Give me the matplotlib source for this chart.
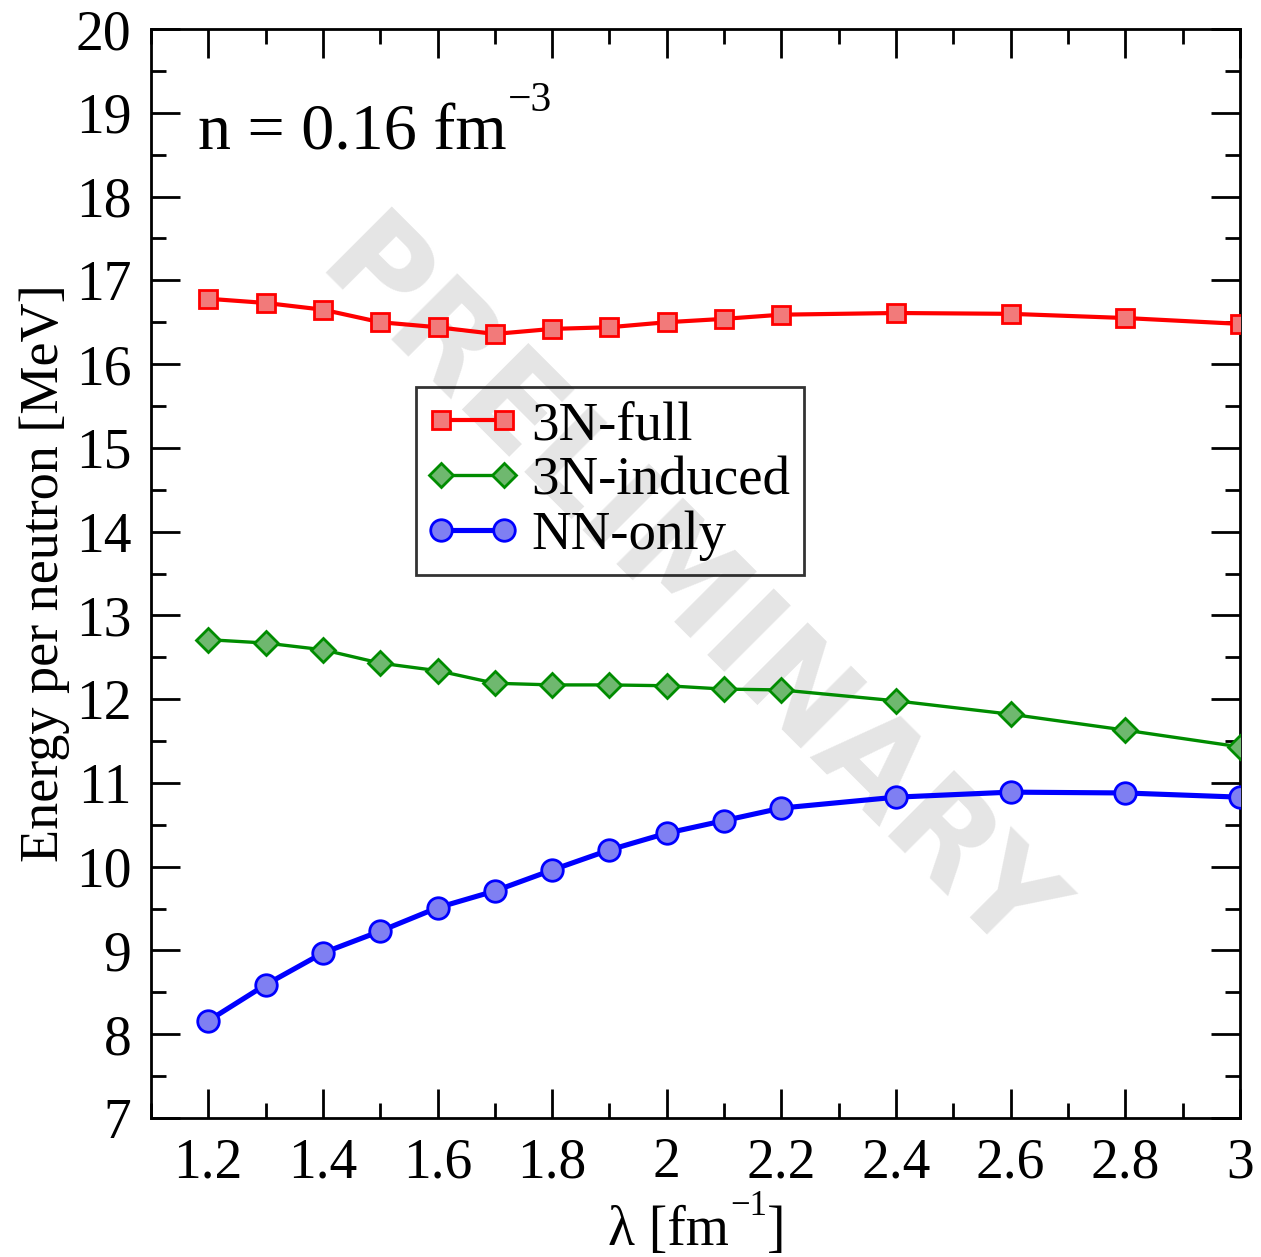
import matplotlib
matplotlib.use("Agg")
import matplotlib.pyplot as plt
from matplotlib.ticker import MultipleLocator, FuncFormatter
from matplotlib.legend_handler import HandlerLine2D

plt.rcParams['font.family'] = ['Liberation Serif', 'DejaVu Serif']

# lambda values [fm^-1]
lam = [1.2, 1.3, 1.4, 1.5, 1.6, 1.7, 1.8, 1.9, 2.0, 2.1, 2.2, 2.4, 2.6, 2.8, 3.0]

# energy per neutron [MeV]
e_3n_full = [16.78, 16.73, 16.65, 16.50, 16.44, 16.36, 16.42, 16.44,
             16.50, 16.54, 16.59, 16.61, 16.60, 16.55, 16.48]
e_3n_induced = [12.71, 12.67, 12.59, 12.43, 12.34, 12.19, 12.17, 12.17,
                12.16, 12.12, 12.11, 11.98, 11.82, 11.63, 11.43]
e_nn_only = [8.16, 8.59, 8.97, 9.23, 9.51, 9.71, 9.96, 10.20,
             10.40, 10.55, 10.70, 10.83, 10.89, 10.88, 10.83]

fig = plt.figure(figsize=(12.61, 12.57), dpi=100)
ax = fig.add_axes([0.1197, 0.1106, 0.8636, 0.8663])

# watermark
ax.text(0.491, 0.481, "PRELIMINARY", transform=ax.transAxes, rotation=-45.0,
        ha="center", va="center", fontsize=93, fontweight="bold",
        family="DejaVu Sans", color="#e5e5e5", zorder=0)

ax.plot(lam, e_3n_full, color="red", lw=3, marker="s", ms=13.5,
        mfc="#f27a7a", mec="red", mew=2, label="3N-full", zorder=3)
ax.plot(lam, e_3n_induced, color="#008c00", lw=2.4, marker="D", ms=12,
        mfc="#6fb86f", mec="#008c00", mew=2, label="3N-induced", zorder=3)
ax.plot(lam, e_nn_only, color="blue", lw=3.7, marker="o", ms=15.5,
        mfc="#7f7ff2", mec="blue", mew=2, label="NN-only", zorder=3)

ax.set_xlim(1.1, 3.0)
ax.set_ylim(7, 20)
ax.xaxis.set_major_locator(MultipleLocator(0.2))
ax.xaxis.set_minor_locator(MultipleLocator(0.1))
ax.yaxis.set_major_locator(MultipleLocator(1))
ax.yaxis.set_minor_locator(MultipleLocator(0.5))
ax.xaxis.set_major_formatter(FuncFormatter(lambda v, p: f"{v:g}"))

ax.tick_params(which="both", direction="in", top=True, right=True,
               width=2, labelsize=40)
ax.tick_params(which="major", length=21, pad=14)
ax.tick_params(which="minor", length=11)
for s in ax.spines.values():
    s.set_linewidth(2)

ax.set_ylabel("Energy per neutron [MeV]", fontsize=39, labelpad=4)

# x label built from pieces so the exponent sits high like the original
xl = fig.text(0.482, 0.0095, "λ [fm", fontsize=40, ha="left", va="baseline")
xs = ax.annotate("−1", xy=(1, 1), xycoords=xl, xytext=(1, -7),
                 textcoords="offset points", fontsize=25, va="baseline",
                 annotation_clip=False)
ax.annotate("]", xy=(1, 0), xycoords=(xs, xl), xytext=(0, 0),
            textcoords="offset points", fontsize=40, va="bottom",
            annotation_clip=False)

# density label
nt = ax.text(0.043, 0.889, "n = 0.16 fm", transform=ax.transAxes,
             fontsize=47.5, ha="left", va="baseline")
ax.annotate("−3", xy=(1, 1), xycoords=nt, xytext=(1, -5),
            textcoords="offset points", fontsize=30, va="baseline")

hmap = {ln: HandlerLine2D(marker_pad=0.2) for ln in ax.get_lines()}
leg = ax.legend(loc="upper left", bbox_to_anchor=(0.2435, 0.6712), fontsize=39.5,
                frameon=True, fancybox=False, edgecolor="black",
                facecolor="none", handler_map=hmap,
                borderpad=0.25, labelspacing=0.08, handlelength=1.55, numpoints=2,
                handletextpad=0.3, borderaxespad=0)
leg.get_frame().set_linewidth(2)

fig.savefig("out.png", dpi=100)
